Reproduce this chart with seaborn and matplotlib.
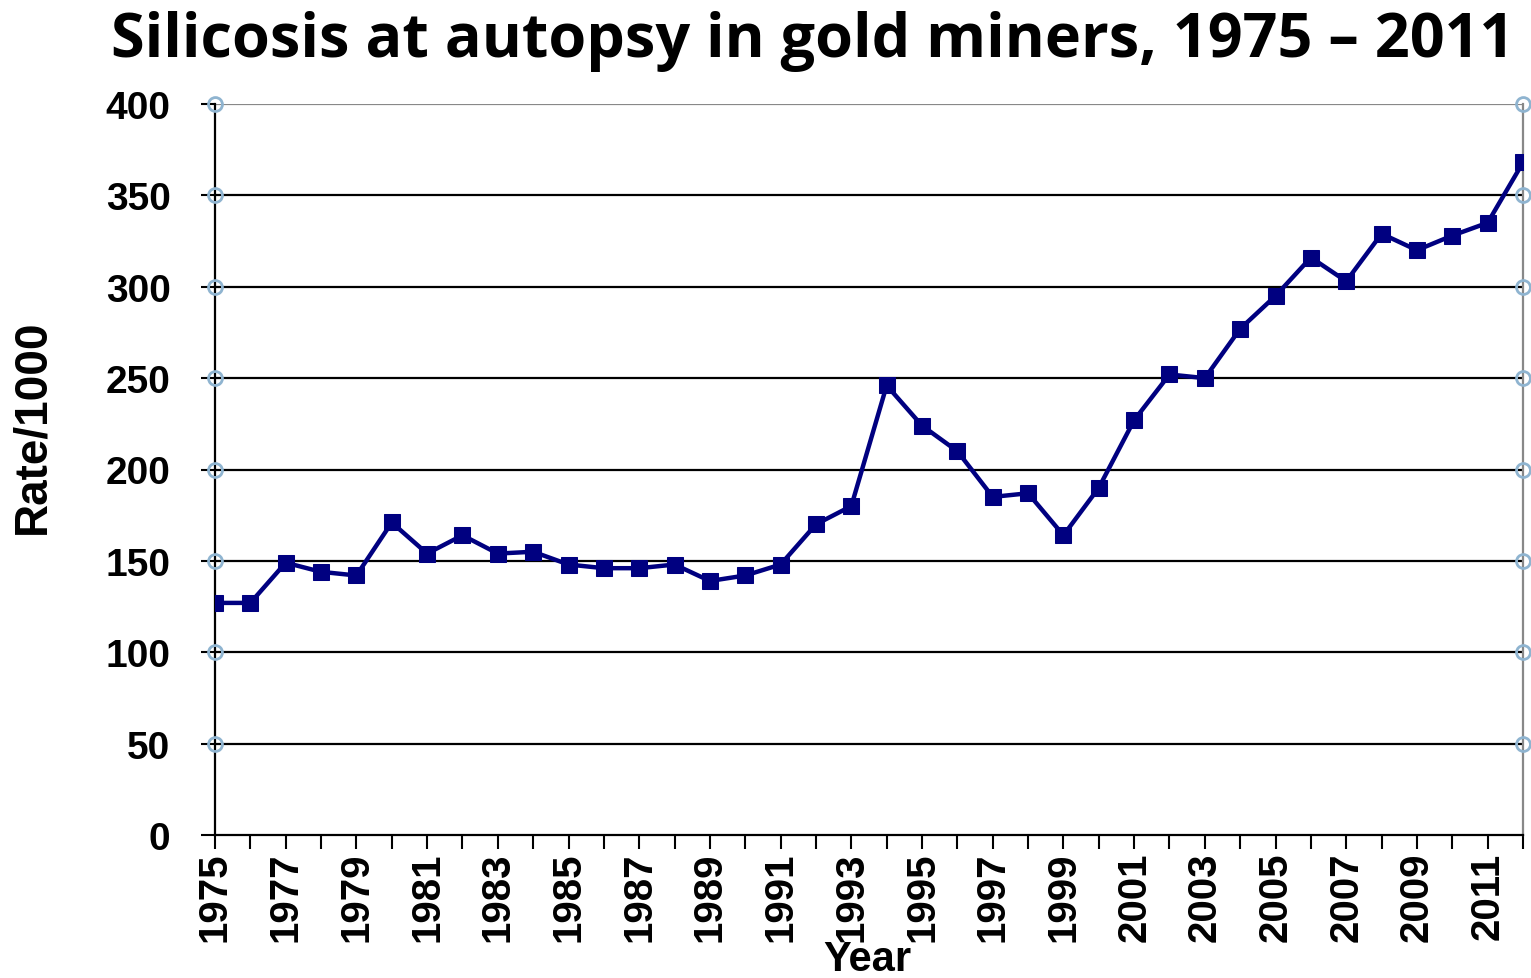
import matplotlib
matplotlib.use("Agg")
import matplotlib.pyplot as plt
import seaborn as sns
import pandas as pd
import numpy as np

years = list(range(1975, 2013))
rates = [127, 127, 149, 144, 142, 171, 154, 164, 154, 155,
         148, 146, 146, 148, 139, 142, 148, 170, 180, 246,
         224, 210, 185, 187, 164, 190, 227, 252, 250, 277,
         295, 316, 303, 329, 320, 328, 335, 368]
ytick_vals = [0, 50, 100, 150, 200, 250, 300, 350, 400]
xtick_labels = [str(y) for y in range(1975, 2012, 2)]

df = pd.DataFrame({"Year": years, "Rate": rates})

sns.set_theme(style="white")
plt.rcParams['font.family'] = ['Liberation Sans', 'DejaVu Sans']
plt.rcParams['text.color'] = 'black'
plt.rcParams['axes.labelcolor'] = 'black'
plt.rcParams['xtick.color'] = 'black'
plt.rcParams['ytick.color'] = 'black'

fig = plt.figure(figsize=(15.31, 9.79), dpi=100)
ax = fig.add_axes([215/1531, 1-836/979, (1523-215)/1531, (836-105)/979])

for v in ytick_vals[1:]:
    ax.axhline(v, color='black' if v < 400 else '#888888', lw=1.6, zorder=1)

sns.lineplot(data=df, x="Year", y="Rate", ax=ax, color='#000080', lw=3.2,
             marker='s', markersize=11, markeredgecolor='#000080', zorder=3)

# handle circles at gridline ends
for v in ytick_vals[1:]:
    ax.plot([1975, 2012], [v, v], linestyle='none', marker='o', markersize=10,
            markerfacecolor='none', markeredgecolor='#8fb4d0', markeredgewidth=2.0,
            clip_on=False, zorder=4)

ax.set_xlim(1975, 2012)
ax.set_ylim(0, 400)
ax.set_yticks(ytick_vals)
ax.set_yticklabels([str(v) for v in ytick_vals], fontsize=28, fontweight='bold')
ax.set_xticks(years)
ax.set_xticklabels([str(y) if (y - 1975) % 2 == 0 and y < 2012 else '' for y in years],
                   rotation=90, fontsize=29, fontweight='bold')
ax.tick_params(axis='both', direction='out', length=10, width=1.5, color='black',
               bottom=True, left=True)
ax.tick_params(axis='y', pad=22)
ax.tick_params(axis='x', pad=2)

ax.spines['top'].set_visible(False)
ax.spines['left'].set_color('black')
ax.spines['left'].set_linewidth(1.6)
ax.spines['bottom'].set_color('black')
ax.spines['bottom'].set_linewidth(1.6)
ax.spines['right'].set_color('#888888')
ax.spines['right'].set_linewidth(1.6)

ax.set_xlabel("Year", fontsize=30, fontweight='bold')
ax.xaxis.set_label_coords((867-215)/(1523-215), (836-940)/(836-105), transform=ax.transAxes)
ax.xaxis.label.set_va('top')
ax.set_ylabel("Rate/1000", fontsize=33, fontweight='bold')
ax.yaxis.set_label_coords((32-215)/(1523-215), (836-427)/(836-105), transform=ax.transAxes)
ax.yaxis.label.set_va('center')

fig.text(813/1531, 1-42/979, "Silicosis at autopsy in gold miners, 1975 – 2011",
         ha='center', va='center', fontsize=44, fontweight='bold', color='black',
         family=['Open Sans', 'DejaVu Sans'])

fig.savefig("out.png", dpi=100)
